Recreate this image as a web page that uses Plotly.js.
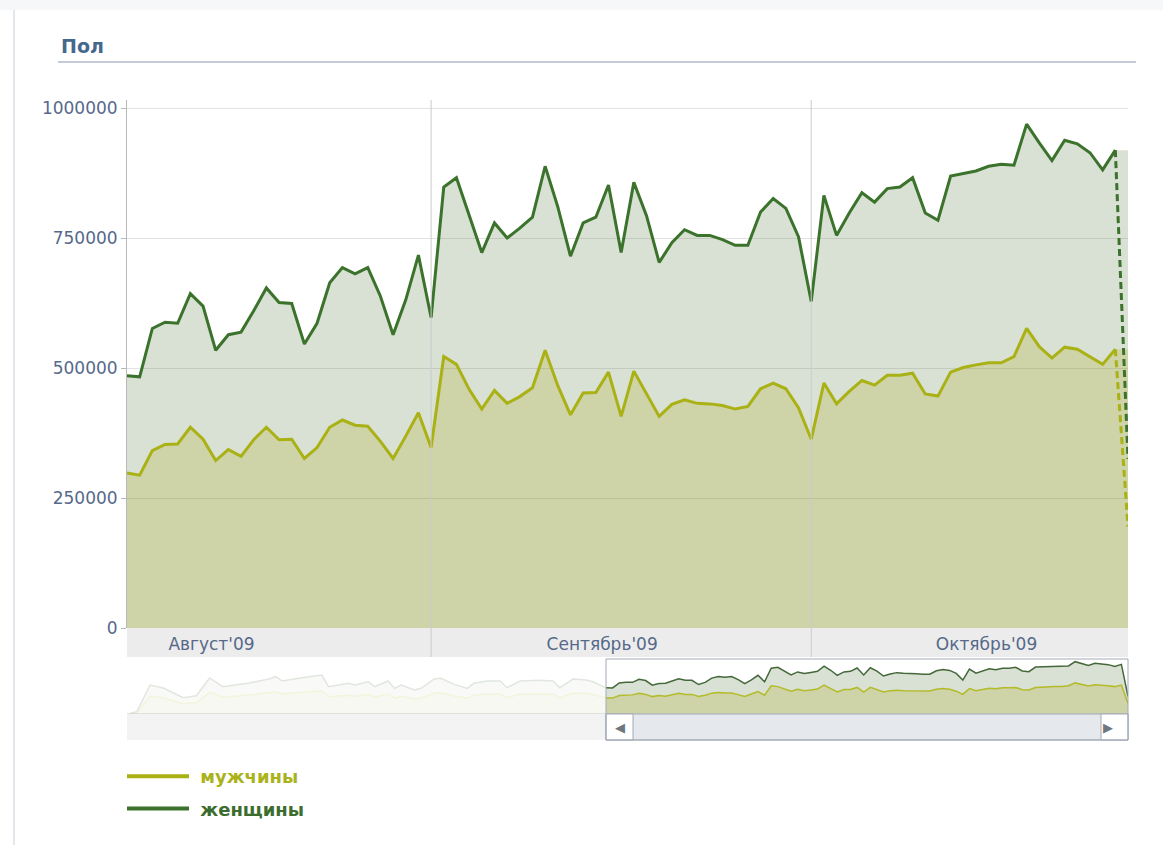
<!DOCTYPE html>
<html><head><meta charset="utf-8">
<script src="https://cdn.plot.ly/plotly-3.0.1.min.js"></script>
<style>
html,body{margin:0;padding:0;background:#fff;}
#topstrip{position:absolute;left:0;top:0;width:1163px;height:10px;background:#f6f7f9;}
#leftline{position:absolute;left:13px;top:10px;width:2px;height:835px;background:#e3e6ea;}
#chart{position:absolute;left:0;top:0;width:1163px;height:845px;}
</style></head><body>
<div id="topstrip"></div><div id="leftline"></div><div id="chart"></div>
<script>
// ---------- data ----------
const startDate = '2009-08-08';   // first daily point in the main view
const women = [
  485000,483000,576000,588000,586000,643000,619000,534000,564000,569000,610000,654000,
  626000,624000,546000,586000,664000,693000,681000,693000,638000,564000,631000,717000,
  597000,848000,866000,793000,722000,779000,750000,769000,790000,888000,810000,715000,
  779000,790000,852000,722000,857000,793000,703000,741000,766000,755000,755000,747000,
  736000,736000,800000,826000,807000,752000,
  628000,832000,755000,798000,837000,819000,845000,848000,866000,798000,784000,869000,
  874000,879000,888000,892000,890000,969000,933000,899000,938000,931000,914000,881000,919000
];
const men = [
  298000,294000,341000,353000,354000,386000,363000,322000,343000,330000,362000,386000,
  362000,363000,326000,347000,386000,400000,390000,388000,359000,326000,369000,414000,
  347000,522000,507000,459000,421000,457000,432000,445000,462000,534000,466000,410000,
  452000,453000,492000,407000,494000,450000,407000,430000,439000,432000,431000,428000,
  421000,426000,460000,471000,460000,423000,
  363000,471000,431000,455000,476000,467000,486000,486000,490000,450000,446000,492000,
  501000,506000,510000,510000,522000,576000,541000,519000,540000,536000,521000,507000,536000
];
const partialDate = '2009-10-26';   // incomplete last day (dashed)
const womenPartial = 325000;
const menPartial = 195000;

// earlier history, only visible (faded) in the navigator
const navEarlyDates = ['2009-05-28','2009-05-29','2009-05-31','2009-06-02','2009-06-05','2009-06-07',
  '2009-06-09','2009-06-11','2009-06-15','2009-06-18','2009-06-19','2009-06-20','2009-06-23',
  '2009-06-26','2009-06-27','2009-06-30','2009-07-01','2009-07-03','2009-07-04','2009-07-06',
  '2009-07-07','2009-07-08','2009-07-10','2009-07-11','2009-07-13','2009-07-14','2009-07-16',
  '2009-07-18','2009-07-19','2009-07-21','2009-07-23','2009-07-24','2009-07-26','2009-07-29',
  '2009-07-31','2009-08-01','2009-08-03','2009-08-05','2009-08-06'];
const navEarlyWomen = [13000,43000,537000,481000,302000,339000,667000,506000,574000,648000,691000,
  611000,673000,722000,506000,568000,537000,598000,506000,611000,475000,537000,444000,475000,
  648000,660000,549000,475000,568000,611000,611000,487000,611000,624000,611000,487000,648000,
  630000,598000];
const navEarlyMen = [8000,26000,330000,300000,190000,210000,400000,310000,350000,390000,410000,
  370000,400000,430000,320000,345000,330000,360000,315000,370000,295000,330000,280000,295000,
  385000,395000,335000,295000,345000,370000,370000,300000,370000,375000,370000,300000,390000,
  380000,360000];
const navStart = '2009-05-27 12:00';

const seriesNames = ['мужчины','женщины'];
const yTickVals = [0,250000,500000,750000,1000000];
const yTickText = ['0','250000','500000','750000','1000000'];
const monthLabels = ["Август'09","Сентябрь'09","Октябрь'09"];
const monthLabelPos = ['2009-08-14 16:00','2009-09-14 12:00','2009-10-14 20:00'];
const monthStarts = ['2009-09-01','2009-10-01'];

// ---------- styles ----------
const C = {
  menLine:'#a9b114', womenLine:'#3b722c',
  menFill:'rgba(133,148,38,0.40)', womenFill:'rgba(90,130,70,0.24)',
  menText:'#aab31a', womenText:'#3c6d2e',
  tick:'#56698a', grid:'#e2e2e2', axis:'#b9b9b9', band:'#ececec', sep:'#cbcbcb',
  frame:'#a3abb6'
};
const FONT = 'DejaVu Sans, Verdana, sans-serif';

// ---------- helpers ----------
function dayStr(base, i){ const d=new Date(base+'T00:00:00Z'); d.setUTCDate(d.getUTCDate()+i); return d.toISOString().slice(0,10); }
function tms(s){ return Date.parse(s.replace(' ','T') + (s.length>10?':00Z':'T00:00:00Z')); }
const dates = women.map((_,i)=>dayStr(startDate,i));
const last = dates.length-1;
// geometry of plot area in px
const L=127, R=1128, T=100, B=740;
const px = x => (x-L)/(R-L);
const py = y => (B-y)/(B-T);

const fillX = dates.concat([partialDate]);
const menFillY = men.concat([men[last]]);
const womenFillY = women.concat([women[last]]);

const navX = navEarlyDates.concat(dates,[partialDate]);
const navW = navEarlyWomen.concat(women,[womenPartial]);
const navM = navEarlyMen.concat(men,[menPartial]);

const traces = [
  {x:fillX, y:menFillY, type:'scatter', mode:'lines', line:{width:0,color:C.menLine}, fill:'tozeroy', fillcolor:C.menFill, showlegend:false, hoverinfo:'skip'},
  {x:fillX, y:womenFillY, type:'scatter', mode:'lines', line:{width:0,color:C.womenLine}, fill:'tonexty', fillcolor:C.womenFill, showlegend:false, hoverinfo:'skip'},
  {x:dates, y:men, type:'scatter', mode:'lines', line:{width:3,color:C.menLine}, showlegend:false, name:seriesNames[0]},
  {x:dates, y:women, type:'scatter', mode:'lines', line:{width:3,color:C.womenLine}, showlegend:false, name:seriesNames[1]},
  {x:[dates[last],partialDate], y:[men[last],menPartial], type:'scatter', mode:'lines', line:{width:3,color:C.menLine,dash:'7px,4px'}, showlegend:false},
  {x:[dates[last],partialDate], y:[women[last],womenPartial], type:'scatter', mode:'lines', line:{width:3,color:C.womenLine,dash:'7px,4px'}, showlegend:false},
  // navigator
  {x:navX, y:navM, xaxis:'x2', yaxis:'y2', type:'scatter', mode:'lines', line:{width:1.5,color:'#b3bb28'}, fill:'tozeroy', fillcolor:C.menFill, showlegend:false},
  {x:navX, y:navW, xaxis:'x2', yaxis:'y2', type:'scatter', mode:'lines', line:{width:1.5,color:'#44683a'}, fill:'tonexty', fillcolor:C.womenFill, showlegend:false},
  // legend entries
  {x:[null], y:[null], type:'scatter', mode:'lines', line:{width:4,color:C.menLine}, name:'<span style="color:'+C.menText+'"><b>\u00a0'+seriesNames[0]+'</b></span>', legendgroup:'a', showlegend:true},
  {x:[null], y:[null], type:'scatter', mode:'lines', line:{width:4,color:C.womenLine}, name:'<span style="color:'+C.womenText+'"><b>\u00a0'+seriesNames[1]+'</b></span>', legendgroup:'b', showlegend:true}
];

const pNav0 = (tms(dates[0])-tms(navStart))/(tms(partialDate)-tms(navStart));
const btn = 27/(R-L);

const shapes = [
  // band under main plot (below so the month labels stay visible)
  {type:'rect', xref:'paper', yref:'paper', x0:0, x1:1, y0:py(657), y1:py(628), fillcolor:C.band, line:{width:0}, layer:'below'},
  // month separators
  ...monthStarts.map(m=>({type:'line', xref:'x', yref:'paper', x0:m, x1:m, y0:py(657), y1:1, line:{color:C.sep,width:1}, layer:'above'})),
  // title underline
  {type:'line', xref:'paper', yref:'paper', x0:px(58), x1:px(1136), y0:py(62), y1:py(62), line:{color:'#c3cbd7',width:2}},
  // faded part of navigator
  {type:'rect', xref:'x2', yref:'paper', x0:navStart, x1:dates[0], y0:py(714), y1:py(659), fillcolor:'rgba(255,255,255,0.84)', line:{width:0}, layer:'above'},
  // navigator baseline
  {type:'line', xref:'paper', yref:'paper', x0:0, x1:1, y0:py(714), y1:py(714), line:{color:'#c9c9c9',width:1}, layer:'above'},
  // scrollbar track
  {type:'rect', xref:'paper', yref:'paper', x0:0, x1:1, y0:0, y1:py(714), fillcolor:'#f3f3f3', line:{width:0}, layer:'above'},
  // scrollbar thumb
  {type:'rect', xref:'paper', yref:'paper', x0:pNav0, x1:1, y0:0, y1:py(714), fillcolor:'#e5e9ee', line:{color:C.frame,width:1}, layer:'above'},
  {type:'rect', xref:'paper', yref:'paper', x0:pNav0, x1:pNav0+btn, y0:0, y1:py(714), fillcolor:'#ffffff', line:{color:C.frame,width:1}, layer:'above'},
  {type:'rect', xref:'paper', yref:'paper', x0:1-btn, x1:1, y0:0, y1:py(714), fillcolor:'#ffffff', line:{color:C.frame,width:1}, layer:'above'},
  // window frame
  {type:'rect', xref:'paper', yref:'paper', x0:pNav0, x1:1, y0:0, y1:py(659), fillcolor:'rgba(0,0,0,0)', line:{color:C.frame,width:1}, layer:'above'}
];

const annotations = [
  {xref:'paper', yref:'paper', x:pNav0+btn/2, y:py(727), yanchor:'middle', text:'◀', showarrow:false, font:{size:13,color:'#6e7680',family:FONT}},
  {xref:'paper', yref:'paper', x:1-btn/2, y:py(727), yanchor:'middle', text:'▶', showarrow:false, font:{size:13,color:'#6e7680',family:FONT}}
];

const layout = {
  width:1163, height:845,
  paper_bgcolor:'rgba(0,0,0,0)', plot_bgcolor:'#ffffff',
  margin:{l:L, r:1163-R, t:T, b:845-B, autoexpand:false},
  font:{family:FONT, color:C.tick},
  title:{text:'<b>Пол</b>', font:{family:FONT,size:19,color:'#45688e'}, x:61/1163, xref:'container', xanchor:'left', y:1-46/845, yref:'container', yanchor:'middle'},
  xaxis:{type:'date', domain:[0,1], anchor:'y', range:[startDate, partialDate], showgrid:false, zeroline:false, showline:false,
         tickmode:'array', tickvals:monthLabelPos, ticktext:monthLabels, ticks:'', ticklabelstandoff:4,
         tickfont:{family:FONT,size:17,color:C.tick}},
  yaxis:{domain:[py(628),1], range:[0,1015400], tickmode:'array', tickvals:yTickVals, ticktext:yTickText,
         ticks:'outside', ticklen:5, tickcolor:C.axis, showline:true, linecolor:C.axis, linewidth:1,
         gridcolor:C.grid, zeroline:false, tickfont:{family:FONT,size:17,color:C.tick}},
  xaxis2:{type:'date', domain:[0,1], anchor:'y2', range:[navStart, partialDate], visible:false},
  yaxis2:{domain:[py(714), py(660)], range:[0,1000000], visible:false},
  showlegend:true,
  legend:{x:-0.005, xanchor:'left', y:py(758), yanchor:'top', orientation:'v', itemwidth:62, tracegroupgap:6,
          bgcolor:'rgba(0,0,0,0)', font:{family:FONT,size:18}},
  shapes:shapes, annotations:annotations
};

Plotly.newPlot('chart', traces, layout, {staticPlot:true, displayModeBar:false});
</script></body></html>
